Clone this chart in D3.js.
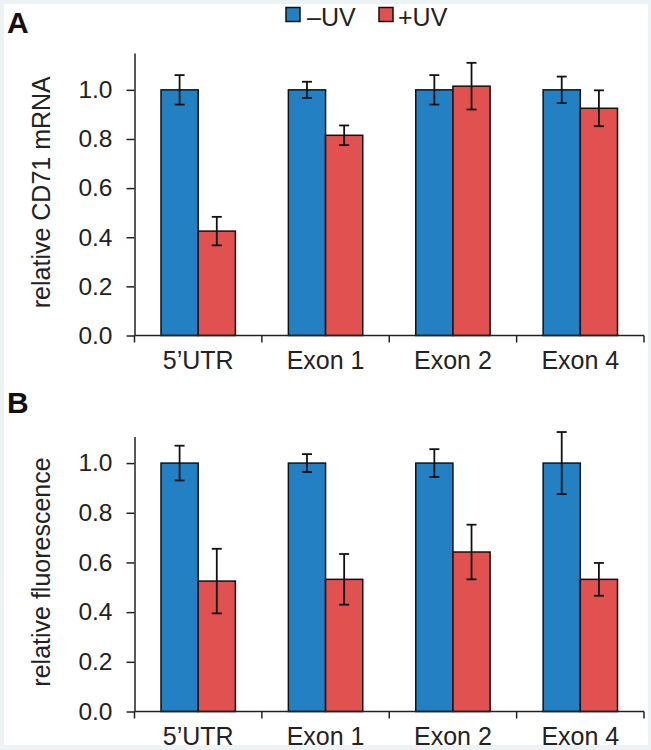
<!DOCTYPE html>
<html><head><meta charset="utf-8">
<script src="https://cdn.jsdelivr.net/npm/d3@7"></script>
<style>
html,body{margin:0;padding:0;background:#edf3f5;}
svg{display:block;font-family:"Liberation Sans",Arial,Helvetica,sans-serif;}
</style></head>
<body>
<svg id="c" width="651" height="750"></svg>
<script>
const categories = ["5\u2019UTR", "Exon 1", "Exon 2", "Exon 4"];
const seriesNames = ["\u2013UV", "+UV"];
const yTicks = [0.0, 0.2, 0.4, 0.6, 0.8, 1.0];

// Panel A: relative CD71 mRNA
const mrnaMinusUV = [1.0, 1.0, 1.0, 1.0];
const mrnaMinusUVErr = [0.06, 0.033, 0.06, 0.054];
const mrnaPlusUV = [0.425, 0.815, 1.015, 0.925];
const mrnaPlusUVErr = [0.058, 0.04, 0.095, 0.073];

// Panel B: relative fluorescence
const fluorMinusUV = [1.0, 1.0, 1.0, 1.0];
const fluorMinusUVErr = [0.07, 0.036, 0.056, 0.125];
const fluorPlusUV = [0.525, 0.532, 0.642, 0.532];
const fluorPlusUVErr = [0.13, 0.102, 0.11, 0.066];

const colors = ["#2381c3", "#e0514f"];
const svg = d3.select("#c");

// white panel inside pale frame
svg.append("rect").attr("x", 4).attr("y", 4).attr("width", 644).attr("height", 741).attr("fill", "#ffffff");

const x0 = d3.scaleBand().domain(categories).range([134.5, 644]).padding(0);
const bw = x0.bandwidth();
const x1 = d3.scaleBand().domain(seriesNames).range([26.5, bw - 26.5]).padding(0);

function panel(cfg) {
  const y = d3.scaleLinear().domain([0, cfg.ymax]).range([cfg.y0, cfg.ytop]);
  const g = svg.append("g");
  const data = categories.map((c, i) => ({
    cat: c,
    vals: [
      {s: seriesNames[0], v: cfg.minus[i], e: cfg.minusErr[i], col: colors[0]},
      {s: seriesNames[1], v: cfg.plus[i], e: cfg.plusErr[i], col: colors[1]}
    ]
  }));
  const grp = g.selectAll("g.grp").data(data).join("g")
    .attr("transform", d => `translate(${x0(d.cat)},0)`);
  grp.selectAll("rect").data(d => d.vals).join("rect")
    .attr("x", d => x1(d.s))
    .attr("y", d => y(d.v))
    .attr("width", x1.bandwidth())
    .attr("height", d => y(0) - y(d.v))
    .attr("fill", d => d.col)
    .attr("stroke", "#111").attr("stroke-width", 1.5);
  const eb = grp.selectAll("g.eb").data(d => d.vals).join("g")
    .attr("stroke", "#111").attr("stroke-width", 1.8);
  const cx = d => x1(d.s) + x1.bandwidth() / 2;
  eb.append("line").attr("x1", cx).attr("x2", cx)
    .attr("y1", d => y(d.v + d.e)).attr("y2", d => y(d.v - d.e));
  eb.append("line").attr("x1", d => cx(d) - 5).attr("x2", d => cx(d) + 5)
    .attr("y1", d => y(d.v + d.e)).attr("y2", d => y(d.v + d.e));
  eb.append("line").attr("x1", d => cx(d) - 5).attr("x2", d => cx(d) + 5)
    .attr("y1", d => y(d.v - d.e)).attr("y2", d => y(d.v - d.e));

  // y axis
  const ya = g.append("g").attr("transform", "translate(134.5,0)")
    .call(d3.axisLeft(y).tickValues(yTicks).tickFormat(d3.format(".1f"))
      .tickSize(8).tickSizeOuter(0).tickPadding(14));
  ya.selectAll("path,line").attr("stroke", "#222").attr("stroke-width", 1.5);
  ya.selectAll("text").attr("font-size", 24.5).attr("fill", "#222")
    .attr("font-family", "'Liberation Sans',Arial,sans-serif");

  // x axis
  const xa = g.append("g").attr("transform", `translate(0,${cfg.y0})`)
    .call(d3.axisBottom(x0).tickSize(0).tickSizeOuter(0).tickPadding(15.5));
  xa.select("path").attr("stroke", "#222").attr("stroke-width", 1.5)
    .attr("d", `M${x0.range()[0]},0H${x0.range()[1]}`);
  xa.selectAll("text").attr("font-size", 25).attr("fill", "#222")
    .attr("font-family", "'Liberation Sans',Arial,sans-serif");
  const bounds = categories.map(c => x0(c)).concat([x0(categories[categories.length - 1]) + bw]);
  xa.selectAll("line.bd").data(bounds).join("line").attr("class", "bd")
    .attr("x1", d => d).attr("x2", d => d).attr("y1", 0).attr("y2", 7)
    .attr("stroke", "#222").attr("stroke-width", 1.5);

  // y title
  svg.append("text")
    .attr("transform", `translate(50,${(cfg.y0 + cfg.ytop) / 2 - 2}) rotate(-90)`)
    .attr("text-anchor", "middle").attr("font-size", 25).attr("fill", "#222")
    .text(cfg.title);

  // panel letter
  svg.append("text").attr("x", cfg.letterX).attr("y", cfg.letterY)
    .attr("font-size", 30).attr("font-weight", "bold").attr("fill", "#111")
    .text(cfg.letter);
}

panel({minus: mrnaMinusUV, minusErr: mrnaMinusUVErr, plus: mrnaPlusUV, plusErr: mrnaPlusUVErr,
  ymax: 1.15, y0: 335.5, ytop: 53, title: "relative CD71 mRNA", letter: "A", letterX: 7, letterY: 33});
panel({minus: fluorMinusUV, minusErr: fluorMinusUVErr, plus: fluorPlusUV, plusErr: fluorPlusUVErr,
  ymax: 1.107, y0: 711.5, ytop: 436.5, title: "relative fluorescence", letter: "B", letterX: 7, letterY: 413});

// legend
const leg = svg.append("g");
const legX = [286, 379];
seriesNames.forEach((s, i) => {
  leg.append("rect").attr("x", legX[i]).attr("y", 7.5).attr("width", 14).attr("height", 14)
    .attr("fill", colors[i]).attr("stroke", "#111").attr("stroke-width", 1.5);
  leg.append("text").attr("x", legX[i] + (i === 0 ? 21 : 19)).attr("y", 25.5)
    .attr("font-size", 25).attr("fill", "#222").text(s);
});
</script>
</body></html>
